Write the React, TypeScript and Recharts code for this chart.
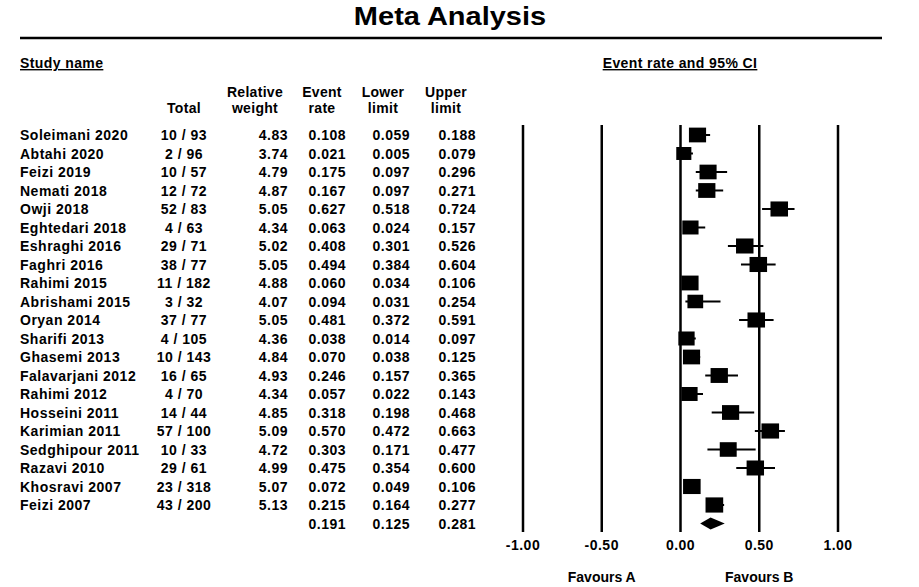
import React from "react"
import { ScatterChart, Scatter, XAxis, YAxis, ErrorBar, ReferenceLine } from "recharts"

const studies = [
    'Soleimani 2020', 'Abtahi 2020', 'Feizi 2019', 'Nemati 2018', 'Owji 2018', 'Eghtedari 2018',
    'Eshraghi 2016', 'Faghri 2016', 'Rahimi 2015', 'Abrishami 2015', 'Oryan 2014', 'Sharifi 2013',
    'Ghasemi 2013', 'Falavarjani 2012', 'Rahimi 2012', 'Hosseini 2011', 'Karimian 2011',
    'Sedghipour 2011', 'Razavi 2010', 'Khosravi 2007', 'Feizi 2007',
];
const totals = [
    '10 / 93', '2 / 96', '10 / 57', '12 / 72', '52 / 83', '4 / 63', '29 / 71', '38 / 77', '11 / 182',
    '3 / 32', '37 / 77', '4 / 105', '10 / 143', '16 / 65', '4 / 70', '14 / 44', '57 / 100', '10 / 33',
    '29 / 61', '23 / 318', '43 / 200',
];
const weights = [4.83, 3.74, 4.79, 4.87, 5.05, 4.34, 5.02, 5.05, 4.88, 4.07, 5.05, 4.36, 4.84, 4.93, 4.34, 4.85, 5.09, 4.72, 4.99, 5.07, 5.13];
const rates = [0.108, 0.021, 0.175, 0.167, 0.627, 0.063, 0.408, 0.494, 0.060, 0.094, 0.481, 0.038, 0.070, 0.246, 0.057, 0.318, 0.570, 0.303, 0.475, 0.072, 0.215];
const lowers = [0.059, 0.005, 0.097, 0.097, 0.518, 0.024, 0.301, 0.384, 0.034, 0.031, 0.372, 0.014, 0.038, 0.157, 0.022, 0.198, 0.472, 0.171, 0.354, 0.049, 0.164];
const uppers = [0.188, 0.079, 0.296, 0.271, 0.724, 0.157, 0.526, 0.604, 0.106, 0.254, 0.591, 0.097, 0.125, 0.365, 0.143, 0.468, 0.663, 0.477, 0.600, 0.106, 0.277];

// pooled estimate: rate, lower, upper
const summary = [0.191, 0.125, 0.281];

const xTicks = [-1, -0.5, 0, 0.5, 1];
const rowTicks = studies.map((_, i) => i).concat([studies.length]);

const FONT = '"Liberation Sans", Arial, sans-serif';

const studyData = studies.map((name, i) => ({
    x: rates[i],
    y: i,
    w: weights[i],
    err: [rates[i] - lowers[i], uppers[i] - rates[i]],
}));

const summaryData = [
    { x: summary[1], y: studies.length, role: 'lo' },
    { x: summary[2], y: studies.length, role: 'hi' },
    { x: summary[0], y: studies.length, role: 'mid' },
];

const cellStyle = { fontFamily: FONT, fontSize: 14, fontWeight: 700, letterSpacing: 0.5 };

function RowTick(props: any) {
    const { y, payload } = props;
    const i = payload.value;
    const isSummary = i === studies.length;
    const rate = isSummary ? summary[0] : rates[i];
    const lo = isSummary ? summary[1] : lowers[i];
    const hi = isSummary ? summary[2] : uppers[i];
    return (
        <g style={cellStyle} fill="#000">
            {!isSummary && <text x={20} y={y} dy="0.36em">{studies[i]}</text>}
            {!isSummary && <text x={184} y={y} dy="0.36em" textAnchor="middle">{totals[i]}</text>}
            {!isSummary && <text x={288} y={y} dy="0.36em" textAnchor="end">{weights[i].toFixed(2)}</text>}
            <text x={346} y={y} dy="0.36em" textAnchor="end">{rate.toFixed(3)}</text>
            <text x={410} y={y} dy="0.36em" textAnchor="end">{lo.toFixed(3)}</text>
            <text x={476} y={y} dy="0.36em" textAnchor="end">{hi.toFixed(3)}</text>
        </g>
    )
}

function XTick(props: any) {
    const { x, y, payload } = props;
    return (
        <text x={x} y={y} dy="0.71em" textAnchor="middle" style={cellStyle} fill="#000">
            {Number(payload.value).toFixed(2)}
        </text>
    )
}

const squareShape = (props: any) => {
    const { cx, cy, payload } = props;
    const w = 7.8 * Math.sqrt(payload.w);
    const h = w * 0.86;
    return <rect x={cx - w / 2} y={cy - h / 2} width={w} height={h} fill="#000" />;
};

function makeDiamondShape() {
    const ends: Record<string, number> = { lo: 0, hi: 0 };
    return (props: any) => {
        const { cx, cy, payload } = props;
        if (payload.role !== 'mid') {
            ends[payload.role] = cx;
            return <g />;
        }
        const h = 6;
        return (
            <polygon
                points={`${ends.lo},${cy} ${cx},${cy - h} ${ends.hi},${cy} ${cx},${cy + h}`}
                fill="#000"
            />
        );
    };
}

const headStyle = { fontFamily: FONT, fontSize: 14, fontWeight: 700, letterSpacing: 0.3 };

export default function App() {
    const diamondShape = makeDiamondShape();
    return (
        <div style={{ position: 'absolute', left: 0, top: 0, width: 919, height: 587, background: '#fff', fontFamily: FONT }}>
            <ScatterChart width={919} height={587} margin={{ top: 125, right: 81, bottom: 25, left: 503 }}>
                <XAxis
                    type="number"
                    dataKey="x"
                    domain={[-1, 1]}
                    ticks={xTicks}
                    interval={0}
                    allowDataOverflow
                    axisLine={false}
                    tickLine={false}
                    height={30}
                    tick={<XTick />}
                />
                <YAxis
                    type="number"
                    dataKey="y"
                    domain={[-0.54, 21.46]}
                    reversed
                    ticks={rowTicks}
                    interval={0}
                    allowDataOverflow
                    axisLine={false}
                    tickLine={false}
                    width={20}
                    tick={<RowTick />}
                />
                {xTicks.map(v => (
                    <ReferenceLine
                        key={v}
                        x={v}
                        stroke="#000"
                        strokeWidth={2.5}
                        label={v === -0.5
                            ? { value: 'Favours A', position: 'bottom', offset: 40, fill: '#000', fontSize: 14, fontWeight: 700 }
                            : v === 0.5
                                ? { value: 'Favours B', position: 'bottom', offset: 40, fill: '#000', fontSize: 14, fontWeight: 700 }
                                : undefined}
                    />
                ))}
                <Scatter data={studyData} shape={squareShape} isAnimationActive={false}>
                    <ErrorBar dataKey="err" direction="x" width={0} stroke="#000" strokeWidth={2} isAnimationActive={false} />
                </Scatter>
                <Scatter data={summaryData} shape={diamondShape} isAnimationActive={false} />
            </ScatterChart>
            <svg width={919} height={587} style={{ position: 'absolute', left: 0, top: 0, pointerEvents: 'none' }}>
                <text x={0} y={0} textAnchor="middle" fill="#000" transform="translate(450 25) scale(1.16 1)"
                    style={{ fontFamily: FONT, fontSize: 25, fontWeight: 700 }}>
                    Meta Analysis
                </text>
                <line x1={20} x2={882} y1={38} y2={38} stroke="#000" strokeWidth={2.5} />
                <text x={20} y={68} fill="#000" style={{ ...headStyle, letterSpacing: 0.4, textDecoration: 'underline' }}>Study name</text>
                <text x={680} y={68} textAnchor="middle" fill="#000" style={{ ...headStyle, letterSpacing: 0.4, textDecoration: 'underline' }}>Event rate and 95% CI</text>
                <g fill="#000" style={headStyle} textAnchor="middle">
                    <text x={184} y={113}>Total</text>
                    <text x={255} y={97}>Relative</text>
                    <text x={255} y={113}>weight</text>
                    <text x={322} y={97}>Event</text>
                    <text x={322} y={113}>rate</text>
                    <text x={383} y={97}>Lower</text>
                    <text x={383} y={113}>limit</text>
                    <text x={446} y={97}>Upper</text>
                    <text x={446} y={113}>limit</text>
                </g>
            </svg>
        </div>
    )
}
